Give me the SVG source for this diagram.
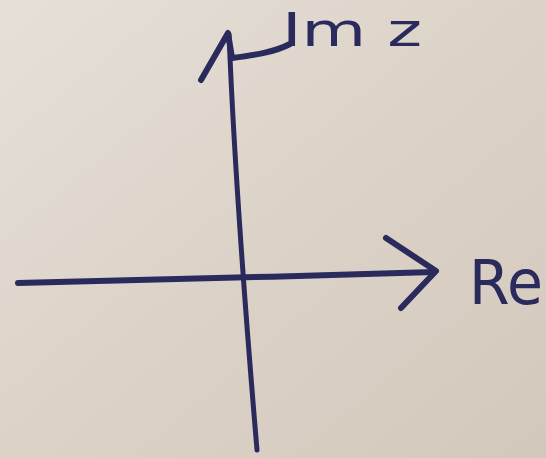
<svg xmlns="http://www.w3.org/2000/svg" width="546" height="458" viewBox="0 0 546 458">
<defs>
<linearGradient id="bg" x1="0" y1="0" x2="1" y2="1">
<stop offset="0" stop-color="#e6e0d7"/>
<stop offset="0.5" stop-color="#dcd3c8"/>
<stop offset="1" stop-color="#d3c8bc"/>
</linearGradient>
<style>
.ink{fill:none;stroke:#2b2a5c;stroke-linecap:round;stroke-linejoin:round}
.lbl{font-family:"DejaVu Sans",sans-serif;fill:#2b2a5c}
</style>
</defs>
<rect width="546" height="458" fill="url(#bg)"/>
<g id="connectors">
<path class="ink" stroke-width="6" d="M18 283 C120 281 300 276 434 272"/>
<path class="ink" stroke-width="6" d="M386 238 L436 271 L401 308"/>
<path class="ink" stroke-width="5" d="M229 34 C234 160 246 320 257 450"/>
<path class="ink" stroke-width="6" d="M201 80 L228 33 L232 58 C255 55 275 52 290 44"/>
</g>
<g id="im-label">
<text class="lbl" x="282" y="46" font-size="46" textLength="140" lengthAdjust="spacingAndGlyphs">Im z</text>
</g>
<g id="re-label">
<text class="lbl" x="469" y="304" font-size="62" textLength="74" lengthAdjust="spacingAndGlyphs">Re</text>
</g>
</svg>
